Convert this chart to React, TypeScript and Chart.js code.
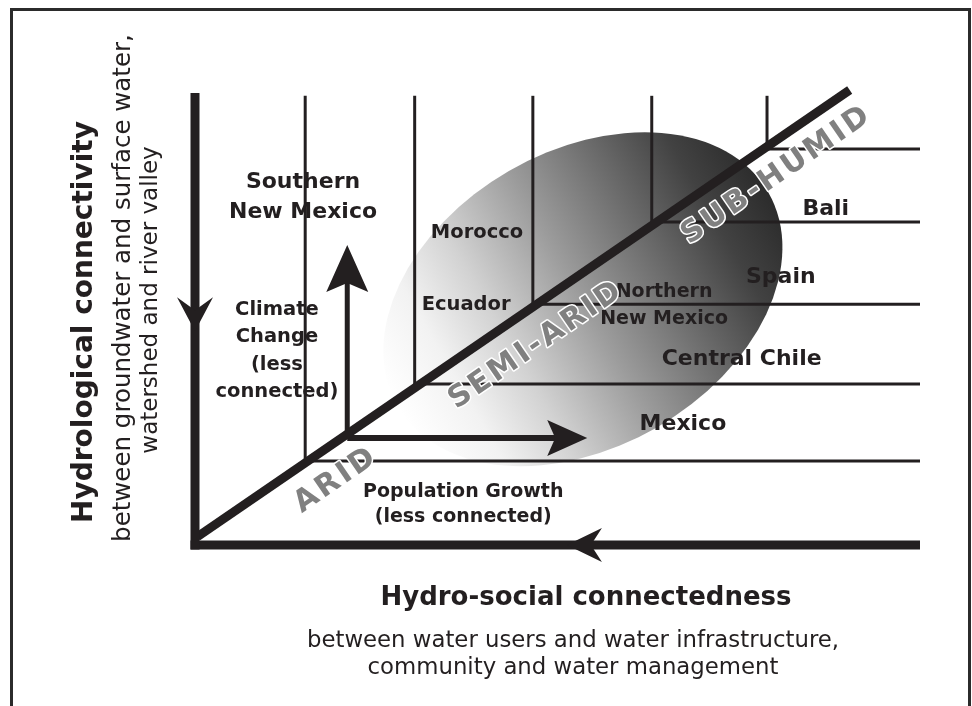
import React, { useEffect, useRef } from "react";
import { Chart, registerables } from "chart.js";

Chart.register(...registerables);

// ---- Data (diagram units 0..100 on both axes) ----
// Junction points where the zone boundary lines meet the aridity diagonal
const JUNCTION_X = [15.2, 30.3, 46.6, 63.0, 78.9];
const JUNCTION_Y = [18.6, 35.7, 53.4, 71.6, 87.8];
// Diagonal aridity gradient (start / end)
const DIAGONAL_X = [0.3, 90.3];
const DIAGONAL_Y = [1.8, 100.9];
// Extents of the boundary lines
const VERTICAL_TOP = 99.6;
const HORIZONTAL_RIGHT = 100;
// Axes
const Y_AXIS_X = [0, 0];
const Y_AXIS_Y = [-1, 100.2];
const X_AXIS_X = [-0.62, 100];
const X_AXIS_Y = [0, 0];
// Driver arrows (start -> tip)
const CLIMATE_ARROW_X = [21.0, 21.0];
const CLIMATE_ARROW_Y = [23.7, 66.5];
const POP_ARROW_X = [21.0, 54.1];
const POP_ARROW_Y = [23.7, 23.7];
// Direction arrows on the axes (tips)
const Y_AXIS_ARROW_TIP = [0, 47.4];
const X_AXIS_ARROW_TIP = [51.3, 0];
// Shaded cluster (centre)
const CLUSTER_CENTER = [53.5, 54.5];

// Case-study labels
const CASE_TEXT = [
  ["Southern", "New Mexico"],
  ["Morocco"],
  ["Ecuador"],
  ["Northern", "New Mexico"],
  ["Bali"],
  ["Spain"],
  ["Central Chile"],
  ["Mexico"],
  ["Climate", "Change", "(less", "connected)"],
  ["Population Growth", "(less connected)"],
];
const CASE_X = [14.9, 38.9, 37.4, 64.7, 87.0, 80.8, 75.4, 67.3, 11.3, 37.0];
const CASE_Y = [77.2, 69.2, 53.2, 53.1, 74.5, 59.4, 41.2, 26.8, 43.0, 9.0];
const CASE_SIZE = [22, 19.5, 19.5, 19, 22, 22, 22, 22, 19.5, 19];
const CASE_LEAD = [30, 0, 0, 27, 0, 0, 0, 0, 27.3, 25];

// Climate zone labels along the diagonal
const ZONE_TEXT = ["ARID", "SEMI-ARID", "SUB-HUMID"];
const ZONE_X = [19.3, 46.9, 80.1];
const ZONE_Y = [14.2, 44.1, 81.8];

const X_TITLE = "Hydro-social connectedness";
const X_SUB = ["between water users and water infrastructure,", "community and water management"];
const Y_TITLE = "Hydrological connectivity";
const Y_SUB = ["between groundwater and surface water,", "watershed and river valley"];

const INK = "#231f20";
const FONT = '"DejaVu Sans", "Liberation Sans", sans-serif';

function seg(xs: number[], ys: number[], width: number) {
  return {
    data: xs.map((x, i) => ({ x, y: ys[i] })),
    showLine: true,
    borderColor: INK,
    backgroundColor: INK,
    borderWidth: width,
    borderCapStyle: "butt" as const,
    borderJoinStyle: "miter" as const,
    pointRadius: 0,
    pointHoverRadius: 0,
    fill: false,
    tension: 0,
    clip: false as any,
  };
}

function head(ctx: CanvasRenderingContext2D, tx: number, ty: number, dx: number, dy: number, len: number, hw: number, notch: number) {
  const px = -dy, py = dx;
  const bx = tx - dx * len, by = ty - dy * len;
  ctx.beginPath();
  ctx.moveTo(tx, ty);
  ctx.lineTo(bx + px * hw, by + py * hw);
  ctx.lineTo(tx - dx * (len - notch), ty - dy * (len - notch));
  ctx.lineTo(bx - px * hw, by - py * hw);
  ctx.closePath();
  ctx.fillStyle = INK;
  ctx.fill();
}

const diagramPlugin = {
  id: "diagram",
  beforeDatasetsDraw(chart: any) {
    const { ctx, scales } = chart;
    const xs = scales.x, ys = scales.y;
    ctx.save();
    // frame
    ctx.strokeStyle = "#2b2b2b";
    ctx.lineWidth = 3;
    ctx.beginPath();
    ctx.moveTo(11.5, 720);
    ctx.lineTo(11.5, 9.5);
    ctx.lineTo(969.5, 9.5);
    ctx.lineTo(969.5, 720);
    ctx.stroke();
    // cluster ellipse with gradient
    const cx = xs.getPixelForValue(CLUSTER_CENTER[0]);
    const cy = ys.getPixelForValue(CLUSTER_CENTER[1]);
    const rx = 214, ry = 148;
    ctx.translate(cx, cy);
    ctx.rotate((-30 * Math.PI) / 180);
    const g = ctx.createLinearGradient(-rx, 0, rx, 0);
    g.addColorStop(0, "#ffffff");
    g.addColorStop(0.15, "#f2f2f2");
    g.addColorStop(0.3, "#d2d2d2");
    g.addColorStop(0.5, "#9c9c9c");
    g.addColorStop(0.7, "#6a6a6a");
    g.addColorStop(0.86, "#424242");
    g.addColorStop(1, "#2c2c2c");
    ctx.fillStyle = g;
    ctx.beginPath();
    ctx.ellipse(0, 0, rx, ry, 0, 0, Math.PI * 2);
    ctx.fill();
    ctx.restore();
  },
  afterDatasetsDraw(chart: any) {
    const { ctx, scales } = chart;
    const xs = scales.x, ys = scales.y;
    const X = (v: number) => xs.getPixelForValue(v);
    const Y = (v: number) => ys.getPixelForValue(v);
    ctx.save();
    // arrowheads
    head(ctx, X(CLIMATE_ARROW_X[1]), Y(CLIMATE_ARROW_Y[1]), 0, -1, 47, 21, 9);
    head(ctx, X(POP_ARROW_X[1]), Y(POP_ARROW_Y[1]), 1, 0, 40, 18, 8);
    head(ctx, X(Y_AXIS_ARROW_TIP[0]), Y(Y_AXIS_ARROW_TIP[1]), 0, 1, 34, 18, 13);
    head(ctx, X(X_AXIS_ARROW_TIP[0]), Y(X_AXIS_ARROW_TIP[1]), -1, 0, 35, 17, 11);

    // case labels
    ctx.fillStyle = INK;
    ctx.textAlign = "center";
    ctx.textBaseline = "middle";
    CASE_TEXT.forEach((lines, i) => {
      ctx.font = `bold ${CASE_SIZE[i]}px ${FONT}`;
      const px = X(CASE_X[i]);
      const py = Y(CASE_Y[i]);
      const lead = CASE_LEAD[i];
      const start = py - ((lines.length - 1) * lead) / 2;
      lines.forEach((t, j) => ctx.fillText(t, px, start + j * lead));
    });

    // zone labels along the diagonal
    const ang = Math.atan2(Y(DIAGONAL_Y[1]) - Y(DIAGONAL_Y[0]), X(DIAGONAL_X[1]) - X(DIAGONAL_X[0]));
    ZONE_TEXT.forEach((t, i) => {
      ctx.save();
      ctx.translate(X(ZONE_X[i]), Y(ZONE_Y[i]));
      ctx.rotate(ang);
      ctx.font = `bold 30px ${FONT}`;
      (ctx as any).letterSpacing = "3px";
      ctx.lineJoin = "round";
      ctx.strokeStyle = "#ffffff";
      ctx.lineWidth = 3;
      ctx.strokeText(t, 1.5, 0);
      ctx.fillStyle = "#808080";
      ctx.fillText(t, 1.5, 0);
      ctx.restore();
    });

    // axis titles
    ctx.fillStyle = INK;
    ctx.font = `bold 26px ${FONT}`;
    ctx.fillText(X_TITLE, 586, 598);
    ctx.font = `22.8px ${FONT}`;
    ctx.fillText(X_SUB[0], 573, 641);
    ctx.fillText(X_SUB[1], 573, 668);

    ctx.save();
    ctx.translate(85, 322);
    ctx.rotate(-Math.PI / 2);
    ctx.font = `bold 28px ${FONT}`;
    ctx.fillText(Y_TITLE, 0, 0);
    ctx.restore();
    ctx.save();
    ctx.translate(124, 288);
    ctx.rotate(-Math.PI / 2);
    ctx.font = `24.5px ${FONT}`;
    ctx.fillText(Y_SUB[0], 0, 0);
    ctx.restore();
    ctx.save();
    ctx.translate(151, 300);
    ctx.rotate(-Math.PI / 2);
    ctx.font = `23px ${FONT}`;
    ctx.fillText(Y_SUB[1], 0, 0);
    ctx.restore();

    ctx.restore();
  },
};

export default function App() {
  const ref = useRef<HTMLCanvasElement | null>(null);
  useEffect(() => {
    if (!ref.current) return;
    const datasets: any[] = [];
    datasets.push(seg(Y_AXIS_X, Y_AXIS_Y, 9));
    datasets.push(seg(X_AXIS_X, X_AXIS_Y, 9));
    datasets.push(seg(DIAGONAL_X, DIAGONAL_Y, 9));
    JUNCTION_X.forEach((jx, i) => {
      datasets.push(seg([jx, jx], [JUNCTION_Y[i], VERTICAL_TOP], 3));
      datasets.push(seg([jx, HORIZONTAL_RIGHT], [JUNCTION_Y[i], JUNCTION_Y[i]], 3));
    });
    datasets.push(seg(CLIMATE_ARROW_X, [CLIMATE_ARROW_Y[0], CLIMATE_ARROW_Y[1] - 3], 5));
    datasets.push(seg([POP_ARROW_X[0], POP_ARROW_X[1] - 3], POP_ARROW_Y, 6));

    const chart = new Chart(ref.current, {
      type: "scatter",
      data: { datasets },
      options: {
        animation: false,
        responsive: false,
        devicePixelRatio: 1,
        events: [],
        layout: { padding: { left: 195, right: 52, top: 94, bottom: 161 } },
        scales: {
          x: { type: "linear", min: 0, max: 100, display: false },
          y: { type: "linear", min: 0, max: 100, display: false },
        },
        plugins: { legend: { display: false }, tooltip: { enabled: false } },
      },
      plugins: [diagramPlugin],
    });
    return () => chart.destroy();
  }, []);
  return (
    <div style={{ position: "absolute", left: 0, top: 0, width: 972, height: 706, background: "#fff" }}>
      <canvas ref={ref} width={972} height={706} style={{ display: "block" }} />
    </div>
  );
}
